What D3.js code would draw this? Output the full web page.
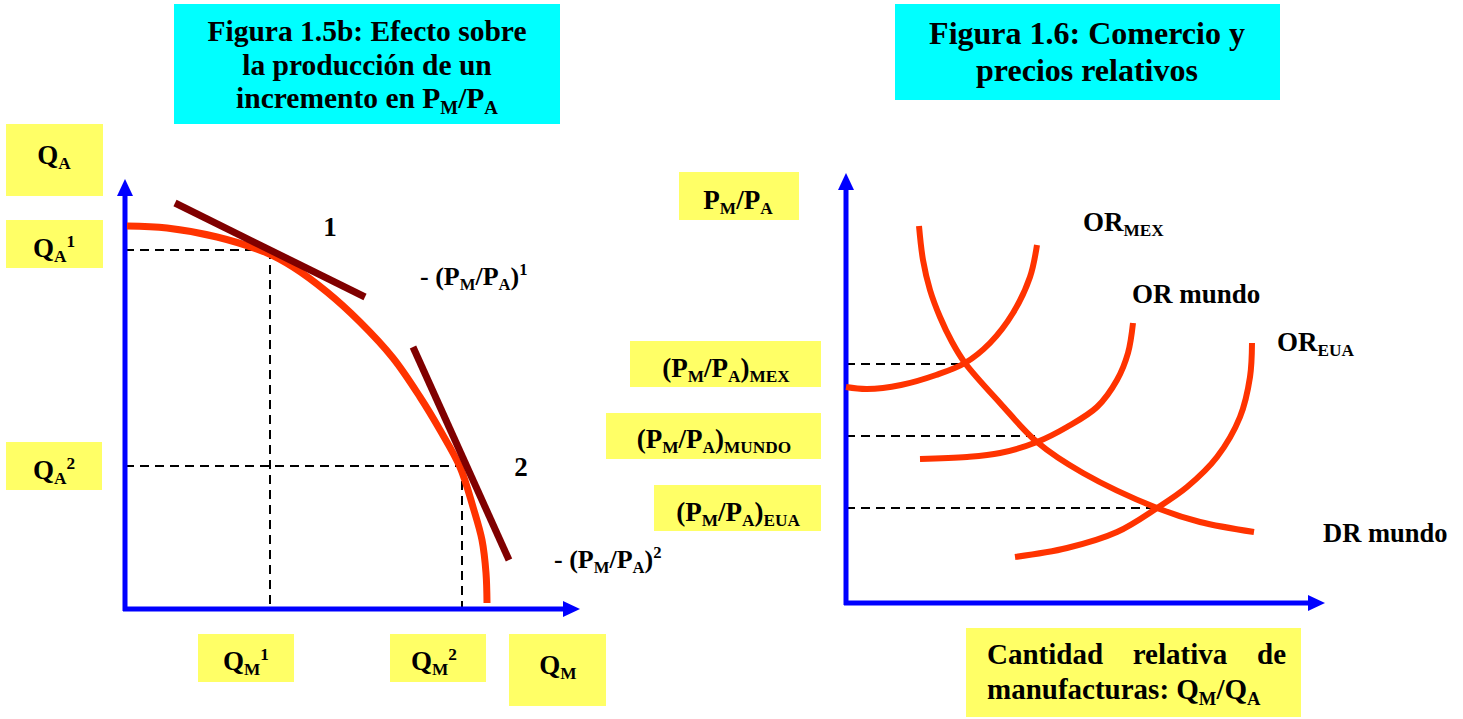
<!DOCTYPE html>
<html lang="es">
<head>
<meta charset="UTF-8">
<title>Figuras 1.5b y 1.6</title>
<script src="https://cdn.jsdelivr.net/npm/d3@7"></script>
<style>
  body { margin: 0; background: #fff; }
  svg text { font-family: "Liberation Serif", "Times New Roman", serif; font-weight: bold; fill: #000; }
</style>
</head>
<body>
<svg id="chart" width="1463" height="719"></svg>
<script>
// ---- Figura 1.5b (unidades de eje, origen en la esquina de los ejes)
const fppCurve = [[2,383],[42,381],[92,372],[142,356],[168,342],[202,317],[235,287],[268,251],[295,212],[315,179],[335,142],[348,102],[357,69],[361,36],[362,6]];
const tangent1 = [[50,406],[240,312]];
const tangent2 = [[288,262],[384,49]];
const point1 = [145,359];
const point2 = [337,143];
const leftAxisMax = [455,430];

// ---- Figura 1.6
const orMex   = [[0,216],[21,214],[55,218],[90,228],[119,240],[144,260],[167,290],[184,326],[191,358]];
const orMundo = [[74,144],[121,146],[154,150],[191,161],[221,176],[251,196],[271,223],[282,250],[287,280]];
const orEua   = [[169,46],[221,55],[271,71],[311,95],[341,116],[371,146],[394,186],[404,226],[406,260]];
const drMundo = [[73,377],[77,343],[84,313],[94,286],[106,261],[119,240],[154,200],[191,161],[237,130],[311,95],[354,81],[408,71]];
const equilibria = [[119,239],[191,167],[311,95]];
const rightAxisMax = [479,430];

// textos
const titleLeft  = ["Figura 1.5b: Efecto sobre", "la producción de un", "incremento en P_{M}/P_{A}"];
const titleRight = ["Figura 1.6: Comercio y", "precios relativos"];
const priceLabels = ["(P_{M}/P_{A})_{MEX}", "(P_{M}/P_{A})_{MUNDO}", "(P_{M}/P_{A})_{EUA}"];

const svg = d3.select("#chart");
const ORANGE = "#ff3300", DARKRED = "#800000", BLUE = "#0000ff", CYAN = "#00ffff", YELLOW = "#ffff66";

// texto con subindices / superindices: "Q_{A}^{1}"
function richText(g, x, y, str, size, anchor) {
  const t = g.append("text").attr("x", x).attr("y", y)
    .attr("font-size", size).attr("text-anchor", anchor || "middle");
  const re = /([_^])\{([^}]*)\}|([^_^]+)/g;
  let m, shift = 0;
  while ((m = re.exec(str)) !== null) {
    let target = 0, fs = size, txt = m[3];
    if (m[1] === "_") { target = size * 0.2; fs = size * 0.64; txt = m[2]; }
    if (m[1] === "^") { target = -size * 0.38; fs = size * 0.64; txt = m[2]; }
    t.append("tspan").attr("dy", target - shift).attr("font-size", fs).text(txt);
    shift = target;
  }
  return t;
}

function box(b) {
  svg.append("rect").attr("x", b[0]).attr("y", b[1]).attr("width", b[2]).attr("height", b[3])
    .attr("fill", b[4]);
}

function axes(xs, ys, maxes) {
  const x0 = xs(0), y0 = ys(0), xt = xs(maxes[0]), yt = ys(maxes[1]);
  const g = svg.append("g");
  g.append("line").attr("x1", x0).attr("y1", y0 + 2).attr("x2", x0).attr("y2", yt + 14)
    .attr("stroke", BLUE).attr("stroke-width", 5);
  g.append("line").attr("x1", x0 - 2).attr("y1", y0).attr("x2", xt - 14).attr("y2", y0)
    .attr("stroke", BLUE).attr("stroke-width", 5);
  g.append("path").attr("d", `M${x0 - 8},${yt + 17}L${x0 + 8},${yt + 17}L${x0},${yt}Z`).attr("fill", BLUE);
  g.append("path").attr("d", `M${xt - 17},${y0 - 8}L${xt - 17},${y0 + 8}L${xt},${y0}Z`).attr("fill", BLUE);
}

function dashed(x1, y1, x2, y2) {
  svg.append("line").attr("x1", x1).attr("y1", y1).attr("x2", x2).attr("y2", y2)
    .attr("stroke", "#000").attr("stroke-width", 2).attr("stroke-dasharray", "9,6");
}

// ---------------- Panel izquierdo ----------------
const xL = d3.scaleLinear().domain([0, leftAxisMax[0]]).range([125, 580]);
const yL = d3.scaleLinear().domain([0, leftAxisMax[1]]).range([609, 179]);

[[174,4,386,120,CYAN],[6,124,97,72,YELLOW],[6,220,97,48,YELLOW],[6,442,96,48,YELLOW],
 [198,634,96,48,YELLOW],[390,634,96,48,YELLOW],[509,634,97,72,YELLOW]].forEach(box);

titleLeft.forEach((s, i) => richText(svg, 367, 41 + i * 33.5, s, 29.5));

dashed(xL(0), yL(point1[1]), xL(point1[0]), yL(point1[1]));
dashed(xL(point1[0]), yL(point1[1]), xL(point1[0]), yL(0));
dashed(xL(0), yL(point2[1]), xL(point2[0]), yL(point2[1]));
dashed(xL(point2[0]), yL(point2[1]), xL(point2[0]), yL(0));

axes(xL, yL, leftAxisMax);

const lineL = d3.line().x(d => xL(d[0])).y(d => yL(d[1]));
svg.append("path").attr("d", lineL.curve(d3.curveCatmullRom)(fppCurve))
  .attr("fill", "none").attr("stroke", ORANGE).attr("stroke-width", 7);
const segL = d3.line().x(d => xL(d[0])).y(d => yL(d[1]));
[tangent1, tangent2].forEach(t => {
  svg.append("path").attr("d", segL(t))
    .attr("fill", "none").attr("stroke", DARKRED).attr("stroke-width", 7);
});

richText(svg, 54, 164, "Q_{A}", 27);
richText(svg, 54, 257, "Q_{A}^{1}", 27);
richText(svg, 54, 479, "Q_{A}^{2}", 27);
richText(svg, 246, 670, "Q_{M}^{1}", 27);
richText(svg, 434, 670, "Q_{M}^{2}", 27);
richText(svg, 558, 674, "Q_{M}", 27);
richText(svg, 330, 236, "1", 27);
richText(svg, 521, 476, "2", 27);
richText(svg, 420, 285, "- (P_{M}/P_{A})^{1}", 26, "start");
richText(svg, 554, 568, "- (P_{M}/P_{A})^{2}", 26, "start");

// ---------------- Panel derecho ----------------
const xR = d3.scaleLinear().domain([0, rightAxisMax[0]]).range([846, 1325]);
const yR = d3.scaleLinear().domain([0, rightAxisMax[1]]).range([603, 173]);

[[895,4,385,96,CYAN],[679,172,120,48,YELLOW],[630,341,191,46,YELLOW],[606,413,215,46,YELLOW],
 [654,485,167,46,YELLOW],[966,628,335,89,YELLOW]].forEach(box);

titleRight.forEach((s, i) => richText(svg, 1087, 44 + i * 37, s, 32));

equilibria.forEach(e => dashed(xR(0), yR(e[1]), xR(e[0]), yR(e[1])));

axes(xR, yR, rightAxisMax);

const lineR = d3.line().x(d => xR(d[0])).y(d => yR(d[1])).curve(d3.curveCatmullRom);
[orMex, orMundo, orEua, drMundo].forEach(c => {
  svg.append("path").attr("d", lineR(c)).attr("fill", "none")
    .attr("stroke", ORANGE).attr("stroke-width", 6);
});

richText(svg, 738, 209, "P_{M}/P_{A}", 27);
const priceY = [377, 448, 521];
const priceX = [726, 714, 738];
priceLabels.forEach((s, i) => richText(svg, priceX[i], priceY[i], s, 27));

richText(svg, 1083, 231, "OR_{MEX}", 27, "start");
richText(svg, 1132, 303, "OR mundo", 27, "start");
richText(svg, 1277, 351, "OR_{EUA}", 27, "start");
richText(svg, 1323, 542, "DR mundo", 26.5, "start");

// texto justificado de la caja inferior
const words = ["Cantidad", "relativa", "de"];
const left = 987, right = 1286;
const ws = words.map(w => richText(svg, 0, 664, w, 29, "start"));
const lens = ws.map(w => w.node().getComputedTextLength());
const gap = (right - left - d3.sum(lens)) / (words.length - 1);
let cx = left;
ws.forEach((w, i) => { w.attr("x", cx); cx += lens[i] + gap; });
richText(svg, 987, 699, "manufacturas: Q_{M}/Q_{A}", 29, "start");
</script>
</body>
</html>
